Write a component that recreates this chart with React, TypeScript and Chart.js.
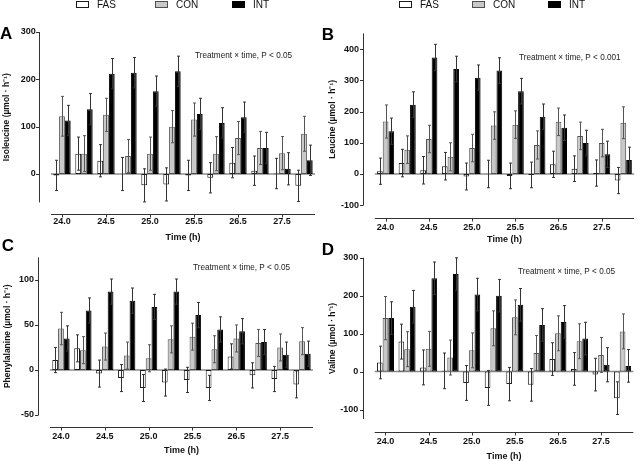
import React, { useEffect, useRef } from "react";
import { Chart, registerables } from "chart.js";

Chart.register(...registerables);
Chart.defaults.font.family = '"Liberation Sans", Arial, Helvetica, sans-serif';

// ---------- data ----------
const times = ["24.0", "24.25", "24.5", "24.75", "25.0", "25.25", "25.5", "26.0", "26.5", "27.0", "27.5", "28.0"];
const seriesNames = ["FAS", "CON", "INT"];

// A: Isoleucine
const ileFAS = [-3, 43, 28, 0, -24, -22, -3, -8, 24, 7, 1, -25];
const ileFASErr = [32, 35, 34, 35, 35, 35, 32, 32, 32, 31, 32, 33];
const ileCON = [122, 43, 125, 38, 43, 100, 115, 43, 76, 55, 44, 85];
const ileCONErr = [42, 38, 35, 35, 35, 34, 35, 36, 35, 35, 35, 37];
const ileINT = [113, 137, 212, 214, 175, 217, 127, 108, 120, 55, 11, 29];
const ileINTErr = [32, 33, 32, 32, 32, 32, 33, 32, 32, 33, 34, 32];

// B: Leucine
const leuFAS = [9, 35, 12, 25, -8, 0, -6, -3, 31, 17, 3, -21];
const leuFASErr = [42, 44, 44, 44, 43, 44, 41, 41, 42, 41, 42, 42];
const leuCON = [168, 78, 112, 55, 83, 155, 158, 93, 167, 122, 99, 164];
const leuCONErr = [53, 44, 44, 45, 44, 44, 44, 45, 44, 44, 44, 51];
const leuINT = [137, 222, 373, 336, 308, 331, 265, 183, 148, 99, 63, 45];
const leuINTErr = [42, 41, 42, 41, 41, 41, 41, 41, 41, 41, 42, 41];

// C: Phenylalanine
const pheFAS = [11, 24, -4, -9, -20, -14, -11, -20, 15, -6, -10, -16];
const pheFASErr = [14, 15, 15, 15, 15, 15, 14, 14, 14, 14, 14, 15];
const pheCON = [46, 22, 26, 16, 13, 34, 37, 23, 35, 30, 25, 32];
const pheCONErr = [18, 15, 15, 15, 15, 15, 15, 15, 15, 15, 15, 15];
const pheINT = [35, 66, 87, 77, 70, 87, 61, 45, 43, 31, 17, 18];
const pheINTErr = [14, 14, 14, 14, 14, 14, 14, 14, 14, 14, 14, 14];

// D: Valine
const valFAS = [24, 79, 11, 2, -30, -43, -33, -35, 33, 7, -8, -70];
const valFASErr = [43, 46, 46, 47, 46, 46, 44, 43, 43, 43, 43, 43];
const valCON = [141, 59, 60, 37, 56, 114, 143, 49, 101, 80, 44, 106];
const valCONErr = [57, 46, 46, 46, 46, 46, 46, 46, 46, 46, 46, 46];
const valINT = [141, 171, 246, 257, 203, 200, 176, 123, 131, 87, 18, 15];
const valINTErr = [43, 43, 43, 43, 43, 43, 43, 43, 43, 43, 45, 43];

// ---------- styles ----------
const fills = ["#ffffff", "#c8c8c8", "#000000"];
const borders = ["#1a1a1a", "#505050", "#000000"];
const FONT = '"Liberation Sans", Arial, Helvetica, sans-serif';

type Panel = {
  key: string;
  left: number; top: number; w: number; h: number;
  pad: { left: number; right: number; top: number; bottom: number };
  yW: number; xH: number;
  min: number; max: number; step: number;
  yTickPad: number; xTickPad: number; xTitlePad: number; yTitlePad: number;
  yGap: number; xGap: number;
  letter: string; letterX: number; letterY: number;
  note: string; noteX: number; noteY: number;
  legendX?: number[];
  yTitle: string;
  values: number[][];
  errors: number[][];
};

const panels: Panel[] = [
  {
    key: "A", left: 0, top: 0, w: 320, h: 245,
    pad: { left: 0, right: 5, top: 32, bottom: 0 }, yW: 51, xH: 42.6,
    min: -60, max: 300, step: 100,
    yTickPad: 15.3, xTickPad: 14.2, xTitlePad: 3, yTitlePad: 1.4, yGap: 11.7, xGap: 11.9,
    letter: "A", letterX: 0, letterY: 39.3,
    note: "Treatment × time, P < 0.05", noteX: 195, noteY: 56,
    legendX: [76, 155, 232],
    yTitle: "Isoleucine (µmol · h⁻¹)",
    values: [ileFAS, ileCON, ileINT], errors: [ileFASErr, ileCONErr, ileINTErr],
  },
  {
    key: "B", left: 320, top: 0, w: 320, h: 245,
    pad: { left: 0, right: 2, top: 33.4, bottom: 0 }, yW: 54.8, xH: 39.75,
    min: -100, max: 450, step: 100,
    yTickPad: 15.8, xTickPad: 16.6, xTitlePad: 0.5, yTitlePad: 7.4, yGap: 12, xGap: 12.3,
    letter: "B", letterX: 1.7, letterY: 40,
    note: "Treatment × time, P < 0.001", noteX: 199, noteY: 58,
    legendX: [79, 152, 228],
    yTitle: "Leucine (µmol · h⁻¹)",
    values: [leuFAS, leuCON, leuINT], errors: [leuFASErr, leuCONErr, leuINTErr],
  },
  {
    key: "C", left: 0, top: 236, w: 320, h: 225,
    pad: { left: 0, right: 7, top: 7.5, bottom: 0 }, yW: 50, xH: 46,
    min: -50, max: 125, step: 50,
    yTickPad: 16, xTickPad: 16.6, xTitlePad: 5.8, yTitlePad: 2.9, yGap: 12.3, xGap: 11.8,
    letter: "C", letterX: 1.7, letterY: 14.7,
    note: "Treatment × time, P < 0.05", noteX: 193, noteY: 32,
    yTitle: "Phenylalanine (µmol · h⁻¹)",
    values: [pheFAS, pheCON, pheINT], errors: [pheFASErr, pheCONErr, pheINTErr],
  },
  {
    key: "D", left: 320, top: 236, w: 320, h: 225,
    pad: { left: 0, right: 3, top: 13, bottom: 0 }, yW: 54.7, xH: 42,
    min: -125, max: 300, step: 100,
    yTickPad: 16.4, xTickPad: 17.3, xTitlePad: 0, yTitlePad: 7.4, yGap: 12.2, xGap: 12.5,
    letter: "D", letterX: 1.7, letterY: 19,
    note: "Treatment × time, P < 0.05", noteX: 198, noteY: 36,
    yTitle: "Valine (µmol · h⁻¹)",
    values: [valFAS, valCON, valINT], errors: [valFASErr, valCONErr, valINTErr],
  },
];

function makePlugin(p: Panel) {
  return {
    id: "gp" + p.key,
    beforeDatasetsDraw(chart: any) {
      const { ctx, chartArea, scales } = chart;
      const y0 = scales.y.getPixelForValue(0);
      ctx.save();
      ctx.strokeStyle = "#8c8c8c";
      ctx.lineWidth = 1.5;
      ctx.beginPath();
      ctx.moveTo(chartArea.left, y0);
      ctx.lineTo(chartArea.right, y0);
      ctx.stroke();
      ctx.restore();
    },
    afterDatasetsDraw(chart: any) {
      const { ctx, scales } = chart;
      ctx.save();
      ctx.lineWidth = 1;
      chart.data.datasets.forEach((ds: any, i: number) => {
        const meta = chart.getDatasetMeta(i);
        ctx.strokeStyle = i === 1 ? "#555555" : "#333333";
        meta.data.forEach((el: any, j: number) => {
          const v = ds.data[j];
          const e = p.errors[i][j];
          const x = Math.round(el.x) + 0.5;
          const yt = scales.y.getPixelForValue(v + e);
          const yb = scales.y.getPixelForValue(v - e);
          ctx.beginPath();
          ctx.moveTo(x, yt);
          ctx.lineTo(x, yb);
          ctx.moveTo(x - 1.5, yt);
          ctx.lineTo(x + 1.5, yt);
          ctx.moveTo(x - 1.5, yb);
          ctx.lineTo(x + 1.5, yb);
          ctx.stroke();
        });
      });
      ctx.restore();
    },
    afterDraw(chart: any) {
      const { ctx, chartArea, scales } = chart;
      ctx.save();
      // y axis line + ticks
      const ax = Math.round(chartArea.left - p.yGap) + 0.5;
      ctx.strokeStyle = "#333333";
      ctx.lineWidth = 1;
      ctx.beginPath();
      ctx.moveTo(ax, scales.y.getPixelForValue(p.max));
      ctx.lineTo(ax, scales.y.getPixelForValue(p.min));
      scales.y.ticks.forEach((t: any) => {
        const y = Math.round(scales.y.getPixelForValue(t.value)) + 0.5;
        ctx.moveTo(ax - 3.5, y);
        ctx.lineTo(ax, y);
      });
      ctx.stroke();
      // x axis line + ticks
      const ay = Math.round(chartArea.bottom + p.xGap) + 0.5;
      ctx.beginPath();
      ctx.moveTo(chartArea.left, ay);
      ctx.lineTo(chartArea.right, ay);
      for (let i = 0; i < times.length; i += 2) {
        const x = Math.round(scales.x.getPixelForTick(i)) + 0.5;
        ctx.moveTo(x, ay);
        ctx.lineTo(x, ay + 3);
      }
      ctx.stroke();
      // panel letter
      ctx.fillStyle = "#000";
      ctx.font = `bold 17px ${FONT}`;
      ctx.textAlign = "left";
      ctx.textBaseline = "alphabetic";
      ctx.fillText(p.letter, p.letterX, p.letterY);
      // annotation
      ctx.font = `8.2px ${FONT}`;
      ctx.fillStyle = "#222";
      ctx.textBaseline = "middle";
      ctx.fillText(p.note, p.noteX, p.noteY);
      // legend
      if (p.legendX) {
        ctx.font = `10px ${FONT}`;
        p.legendX.forEach((lx, i) => {
          ctx.fillStyle = fills[i];
          ctx.fillRect(lx, 1.5, 13, 6);
          ctx.strokeStyle = borders[i];
          ctx.lineWidth = 1;
          ctx.strokeRect(lx + 0.5, 1.5, 12, 6);
          ctx.fillStyle = "#111";
          ctx.textBaseline = "middle";
          ctx.fillText(seriesNames[i], lx + 21, 5);
        });
      }
      ctx.restore();
    },
  };
}

function PanelChart({ p }: { p: Panel }) {
  const ref = useRef<HTMLCanvasElement | null>(null);
  useEffect(() => {
    if (!ref.current) return;
    const chart = new Chart(ref.current, {
      type: "bar",
      data: {
        labels: times,
        datasets: seriesNames.map((name, i) => ({
          label: name,
          data: p.values[i],
          backgroundColor: fills[i],
          borderColor: borders[i],
          borderWidth: 1,
          borderSkipped: false,
        })),
      },
      options: {
        responsive: false,
        animation: false,
        devicePixelRatio: 1,
        layout: { padding: p.pad },
        datasets: { bar: { categoryPercentage: 0.79, barPercentage: 1 } },
        plugins: { legend: { display: false }, tooltip: { enabled: false }, title: { display: false } },
        scales: {
          x: {
            grid: { display: false, drawTicks: false },
            border: { display: false },
            ticks: {
              autoSkip: false,
              maxRotation: 0,
              padding: p.xTickPad,
              color: "#111",
              font: { size: 9, weight: "bold" },
              callback: (_v: any, i: number) => (i % 2 === 0 ? times[i] : ""),
            },
            title: {
              display: true,
              text: "Time (h)",
              color: "#111",
              font: { size: 9, weight: "bold", lineHeight: 1 },
              padding: { top: 0, bottom: p.xTitlePad },
            },
            afterFit: (s: any) => { s.height = p.xH; },
          },
          y: {
            min: p.min,
            max: p.max,
            grid: { display: false, drawTicks: false },
            border: { display: false },
            ticks: {
              stepSize: p.step,
              includeBounds: false,
              padding: p.yTickPad,
              color: "#111",
              font: { size: 9, weight: "bold" },
            },
            title: {
              display: true,
              text: p.yTitle,
              color: "#111",
              font: { size: 8.5, weight: "bold", lineHeight: 1.2 },
              padding: { top: p.yTitlePad, bottom: 0 },
            },
            afterFit: (s: any) => { s.width = p.yW; },
          },
        },
      } as any,
      plugins: [makePlugin(p)],
    });
    return () => chart.destroy();
  }, [p]);
  return (
    <canvas
      ref={ref}
      width={p.w}
      height={p.h}
      style={{ position: "absolute", left: p.left, top: p.top, width: p.w, height: p.h }}
    />
  );
}

export default function App() {
  return (
    <div style={{ position: "fixed", left: 0, top: 0, width: 640, height: 461, background: "#fff", overflow: "hidden" }}>
      {panels.map((p) => (
        <PanelChart key={p.key} p={p} />
      ))}
    </div>
  );
}
